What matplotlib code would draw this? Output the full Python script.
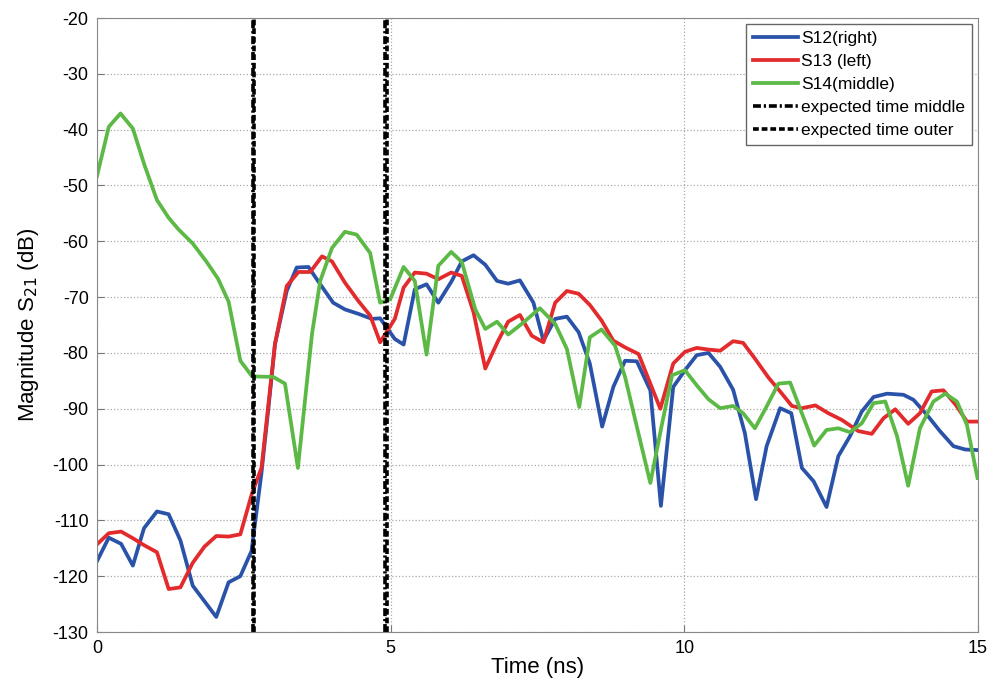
import matplotlib
matplotlib.use("Agg")
import matplotlib.pyplot as plt

plt.rcParams['font.family'] = ['Liberation Sans', 'DejaVu Sans']
plt.rcParams['axes.unicode_minus'] = False

# S12 (right)
t12 = [0.00, 0.20, 0.41, 0.61, 0.80, 1.02, 1.22, 1.42, 1.63, 1.83, 2.03, 2.24, 2.44, 2.63,
       2.80, 2.92, 3.03, 3.23, 3.40, 3.60, 3.80, 4.02, 4.22, 4.45, 4.68, 4.82, 5.07, 5.22,
       5.41, 5.61, 5.81, 6.04, 6.21, 6.41, 6.61, 6.81, 7.00, 7.20, 7.43, 7.60, 7.80, 8.00,
       8.20, 8.39, 8.60, 8.79, 8.99, 9.19, 9.42, 9.60, 9.81, 10.01, 10.21, 10.41, 10.61,
       10.83, 11.03, 11.22, 11.40, 11.63, 11.82, 12.00, 12.20, 12.42, 12.62, 12.82, 13.02,
       13.22, 13.45, 13.73, 13.90, 14.13, 14.35, 14.58, 14.78, 14.99]
s12 = [-117.3, -113.1, -114.2, -118.1, -111.4, -108.4, -108.9, -113.6, -121.7, -124.5,
       -127.3, -121.1, -120.0, -115.5, -101.5, -89.7, -78.4, -68.9, -64.7, -64.6, -67.7,
       -71.0, -72.2, -73.0, -73.9, -73.8, -77.5, -78.5, -68.6, -67.7, -71.0, -67.1, -63.6,
       -62.5, -64.2, -67.1, -67.6, -67.0, -71.0, -77.8, -73.9, -73.5, -76.3, -81.9, -93.2,
       -86.1, -81.4, -81.5, -86.7, -107.4, -86.1, -83.1, -80.4, -80.0, -82.5, -86.6, -94.4,
       -106.2, -96.7, -89.9, -90.8, -100.6, -103.0, -107.6, -98.5, -94.9, -90.5, -87.9,
       -87.3, -87.5, -88.4, -91.1, -94.0, -96.7, -97.3, -97.4]

# S13 (left)
t13 = [0.00, 0.20, 0.41, 0.61, 0.81, 1.02, 1.22, 1.42, 1.63, 1.83, 2.03, 2.24, 2.44, 2.64,
       2.80, 3.03, 3.23, 3.43, 3.63, 3.83, 4.00, 4.22, 4.45, 4.65, 4.82, 5.07, 5.22, 5.41,
       5.61, 5.81, 6.03, 6.21, 6.41, 6.61, 6.83, 7.00, 7.20, 7.40, 7.60, 7.80, 8.00, 8.20,
       8.39, 8.59, 8.79, 8.99, 9.22, 9.42, 9.59, 9.81, 10.01, 10.21, 10.41, 10.61, 10.83,
       11.00, 11.20, 11.43, 11.63, 11.83, 12.00, 12.23, 12.45, 12.68, 12.96, 13.19, 13.39,
       13.59, 13.81, 14.01, 14.21, 14.41, 14.62, 14.81, 14.99]
s13 = [-114.3, -112.3, -112.0, -113.2, -114.5, -115.7, -122.3, -122.0, -117.6, -114.7,
       -112.8, -112.9, -112.5, -105.1, -100.6, -78.4, -68.0, -65.5, -65.5, -62.7, -63.6,
       -67.4, -70.7, -73.3, -78.1, -73.9, -68.3, -65.6, -65.8, -66.8, -65.6, -66.2, -72.7,
       -82.8, -77.8, -74.4, -73.2, -76.9, -78.1, -71.0, -68.9, -69.4, -71.4, -74.2, -77.8,
       -79.0, -80.2, -85.5, -90.0, -81.9, -79.8, -79.1, -79.4, -79.6, -77.9, -78.2, -81.0,
       -84.4, -86.9, -89.5, -89.9, -89.4, -90.8, -92.0, -94.0, -94.5, -91.7, -90.1, -92.7,
       -90.8, -86.9, -86.7, -89.3, -92.3, -92.3]

# S14 (middle)
t14 = [0.00, 0.20, 0.40, 0.61, 0.81, 1.02, 1.22, 1.39, 1.63, 1.86, 2.06, 2.24, 2.44, 2.64,
       3.00, 3.20, 3.42, 3.66, 3.80, 4.00, 4.22, 4.42, 4.65, 4.82, 4.99, 5.22, 5.41, 5.61,
       5.81, 6.03, 6.21, 6.44, 6.61, 6.81, 7.00, 7.23, 7.54, 7.80, 8.00, 8.21, 8.39, 8.59,
       8.82, 8.99, 9.19, 9.42, 9.61, 9.79, 10.01, 10.21, 10.41, 10.61, 10.83, 11.00, 11.20,
       11.40, 11.60, 11.80, 12.00, 12.21, 12.42, 12.62, 12.82, 13.02, 13.22, 13.42, 13.62,
       13.81, 14.01, 14.24, 14.44, 14.64, 14.81, 14.99]
s14 = [-48.3, -39.5, -37.1, -39.8, -46.4, -52.6, -55.8, -57.9, -60.4, -63.6, -66.7, -70.8,
       -81.4, -84.2, -84.3, -85.5, -100.6, -76.6, -67.1, -61.2, -58.3, -58.8, -62.1, -71.0,
       -70.4, -64.6, -67.1, -80.3, -64.4, -61.9, -63.7, -72.2, -75.7, -74.4, -76.7, -74.8,
       -72.0, -74.8, -79.3, -89.7, -77.2, -75.8, -78.7, -84.3, -93.2, -103.3, -93.2, -84.0,
       -83.1, -85.8, -88.3, -89.9, -89.5, -90.8, -93.5, -89.6, -85.5, -85.3, -90.8, -96.6,
       -93.8, -93.5, -94.2, -92.6, -89.0, -88.7, -94.9, -103.8, -93.5, -88.7, -87.3, -88.7,
       -92.9, -102.4]

middle_times = [2.66, 4.91]
outer_times = [2.68, 4.93]

fig = plt.figure(figsize=(9.95, 6.93), dpi=100)
ax = fig.add_axes([0.0975, 0.088, 0.8855, 0.886])

ax.plot(t12, s12, color='#2a52a8', lw=2.7, label='S12(right)')
ax.plot(t13, s13, color='#e32a2c', lw=2.7, label='S13 (left)')
ax.plot(t14, s14, color='#5cb946', lw=2.7, label='S14(middle)')
for i, t in enumerate(middle_times):
    ax.axvline(t, color='black', lw=2.6, dashes=(2.2, 0.8, 0.6, 0.8),
               label='expected time middle' if i == 0 else None)
for i, t in enumerate(outer_times):
    ax.axvline(t, color='black', lw=2.6, dashes=(1.6, 0.8),
               label='expected time outer' if i == 0 else None)

ax.set_xlim(0, 15)
ax.set_ylim(-130, -20)
ax.set_xticks([0, 5, 10, 15])
ax.set_yticks(range(-130, -19, 10))
ax.tick_params(direction='in', labelsize=13, length=5, color='#777777', pad=6)
ax.grid(True, ls=':', color='#aaaaaa', lw=0.9)
for sp in ax.spines.values():
    sp.set_color('#888888')

ax.set_xlabel('Time (ns)', fontsize=16, labelpad=0)
ax.set_ylabel('Magnitude S$_{21}$ (dB)', fontsize=16, labelpad=8)

leg = ax.legend(loc='upper right', fontsize=12.5, handlelength=2.6, handletextpad=0.15,
                labelspacing=0.45, borderpad=0.4, fancybox=False, framealpha=1,
                borderaxespad=0.35)
leg.get_frame().set_edgecolor('#666666')

fig.savefig('out.png', dpi=100)
